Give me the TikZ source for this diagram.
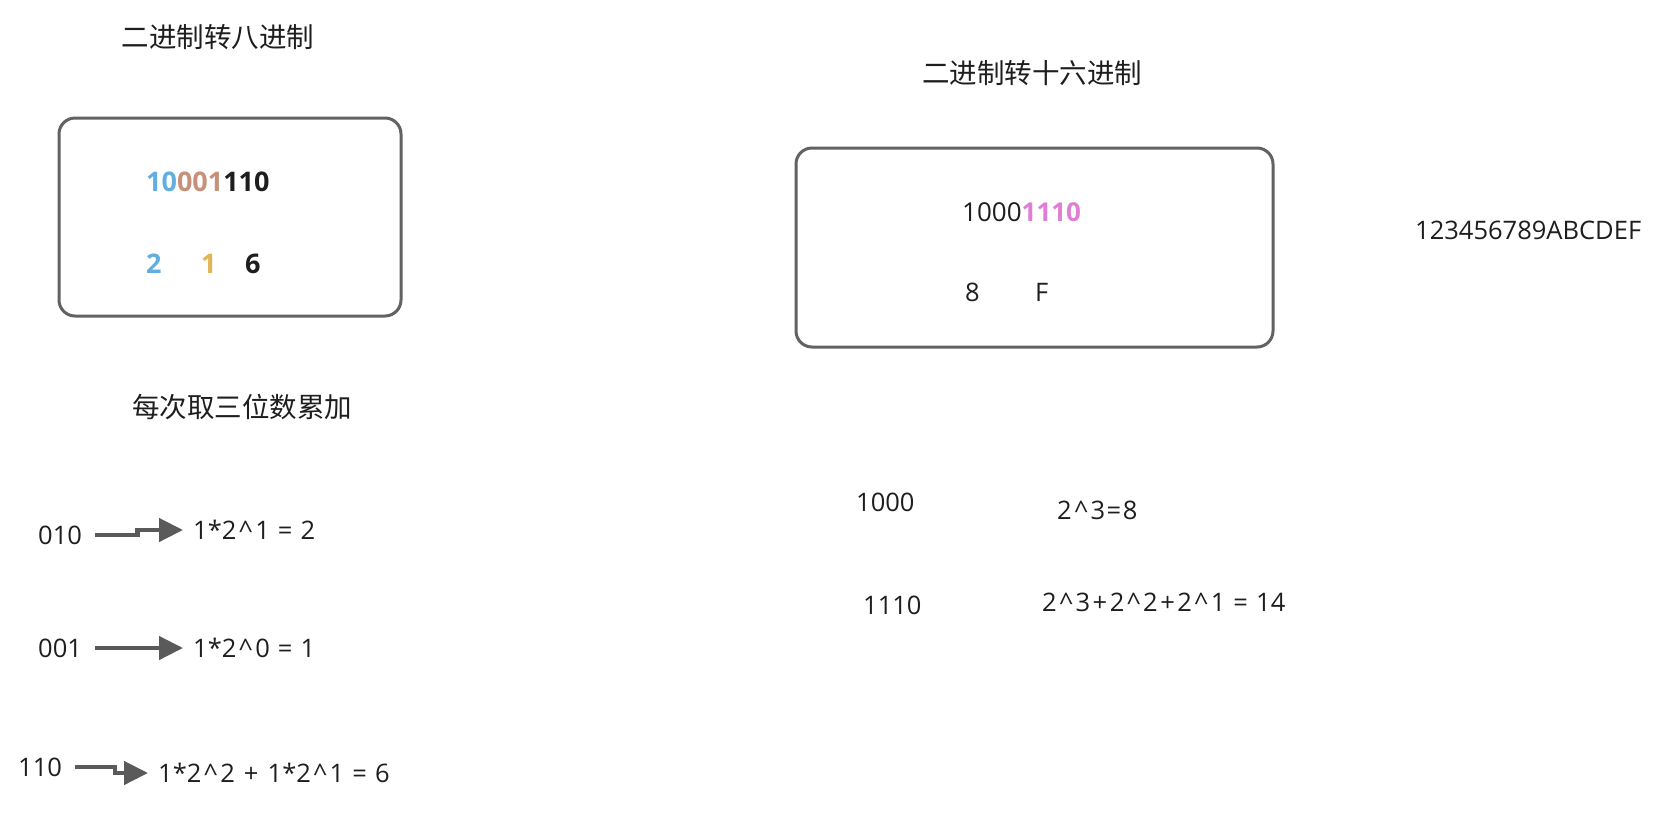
\documentclass[tikz,border=0pt]{standalone}
\usepackage{fontspec}
\setmainfont{Open Sans}
\newfontfamily\cjk{Noto Sans CJK SC}
\usetikzlibrary{arrows.meta,calc}
\definecolor{txt}{HTML}{1E1E1E}
\definecolor{boxc}{HTML}{626262}
\definecolor{arrc}{HTML}{5A5A5A}
\definecolor{cblue}{HTML}{62AEE0}
\definecolor{cbrown}{HTML}{C88F7A}
\definecolor{cgold}{HTML}{E2B452}
\definecolor{cpink}{HTML}{E07ED6}
\newcommand\crt{\kern2.5pt\^{}\kern2.5pt}
\newcommand\pls{\kern2.5pt+\kern2.5pt}
\newcommand\eqs{\kern1.5pt=\kern1.5pt}
\tikzset{
  lbl/.style={inner sep=0pt, anchor=west, text=txt, font=\fontsize{25.5}{30}\selectfont},
  bld/.style={inner sep=0pt, anchor=west, text=txt, font=\fontsize{27}{32}\selectfont\bfseries},
  ttl/.style={inner sep=0pt, text=txt, font=\fontsize{27.5}{32}\selectfont\cjk},
  panel/.style={draw=boxc, line width=3pt, rounded corners=16pt, fill=white},
  arr/.style={draw=arrc, line width=4.5pt, -{Triangle[length=24pt,width=23pt]}, shorten <=13pt, shorten >=10pt}
}
\begin{document}
\begin{tikzpicture}[x=1pt,y=-1pt]
\useasboundingbox[fill=white] (0,0) rectangle (1662,812);
% left part
\node[ttl] (t1) at (218,37) {二进制转八进制};
\draw[panel] (59,118) rectangle (401,316);
\node[bld] (bin1) at (146,182) {\textcolor{cblue}{10}\textcolor{cbrown}{001}110};
\node[bld, text=cblue] (d2) at (146,264) {2};
\node[bld, text=cgold] (d1) at (201,264) {1};
\node[bld] (d6) at (245,264) {6};
\node[ttl] (t2) at (242,407) {每次取三位数累加};
\node[lbl] (a1) at (38,535) {010};
\node[lbl] (b1) at (193,530) {1*2\crt1 \eqs{} 2};
\node[lbl] (a2) at (38,648) {001};
\node[lbl] (b2) at (193,648) {1*2\crt0 \eqs{} 1};
\node[lbl] (a3) at (18,767) {110};
\node[lbl] (b3) at (158,773) {1*2\crt2 \pls{} 1*2\crt1 \eqs{} 6};
\draw[arr] (a1.east) -| ($(a1.east)!0.5!(b1.west)$) |- (b1.west);
\draw[arr] (a2.east) -- (b2.west);
\draw[arr] (a3.east) -| ($(a3.east)!0.55!(b3.west)$) |- (b3.west);
% right part
\node[ttl] (t3) at (1032,73) {二进制转十六进制};
\draw[panel] (796,148) rectangle (1273,347);
\node[lbl, font=\fontsize{26}{30}\selectfont] (bin2) at (962,212) {1000\textcolor{cpink}{\bfseries 1110}};
\node[lbl] (h8) at (965,292) {8};
\node[lbl] (hF) at (1035,292) {F};
\node[lbl] (hex) at (1415,230) {123456789ABCDEF};
\node[lbl] (r1) at (856,502) {1000};
\node[lbl] (s1) at (1057,510) {2\crt3\eqs8};
\node[lbl] (r2) at (863,605) {1110};
\node[lbl] (s2) at (1042,602) {2\crt3\pls2\crt2\pls2\crt1 \eqs{} 14};
\end{tikzpicture}
\end{document}
